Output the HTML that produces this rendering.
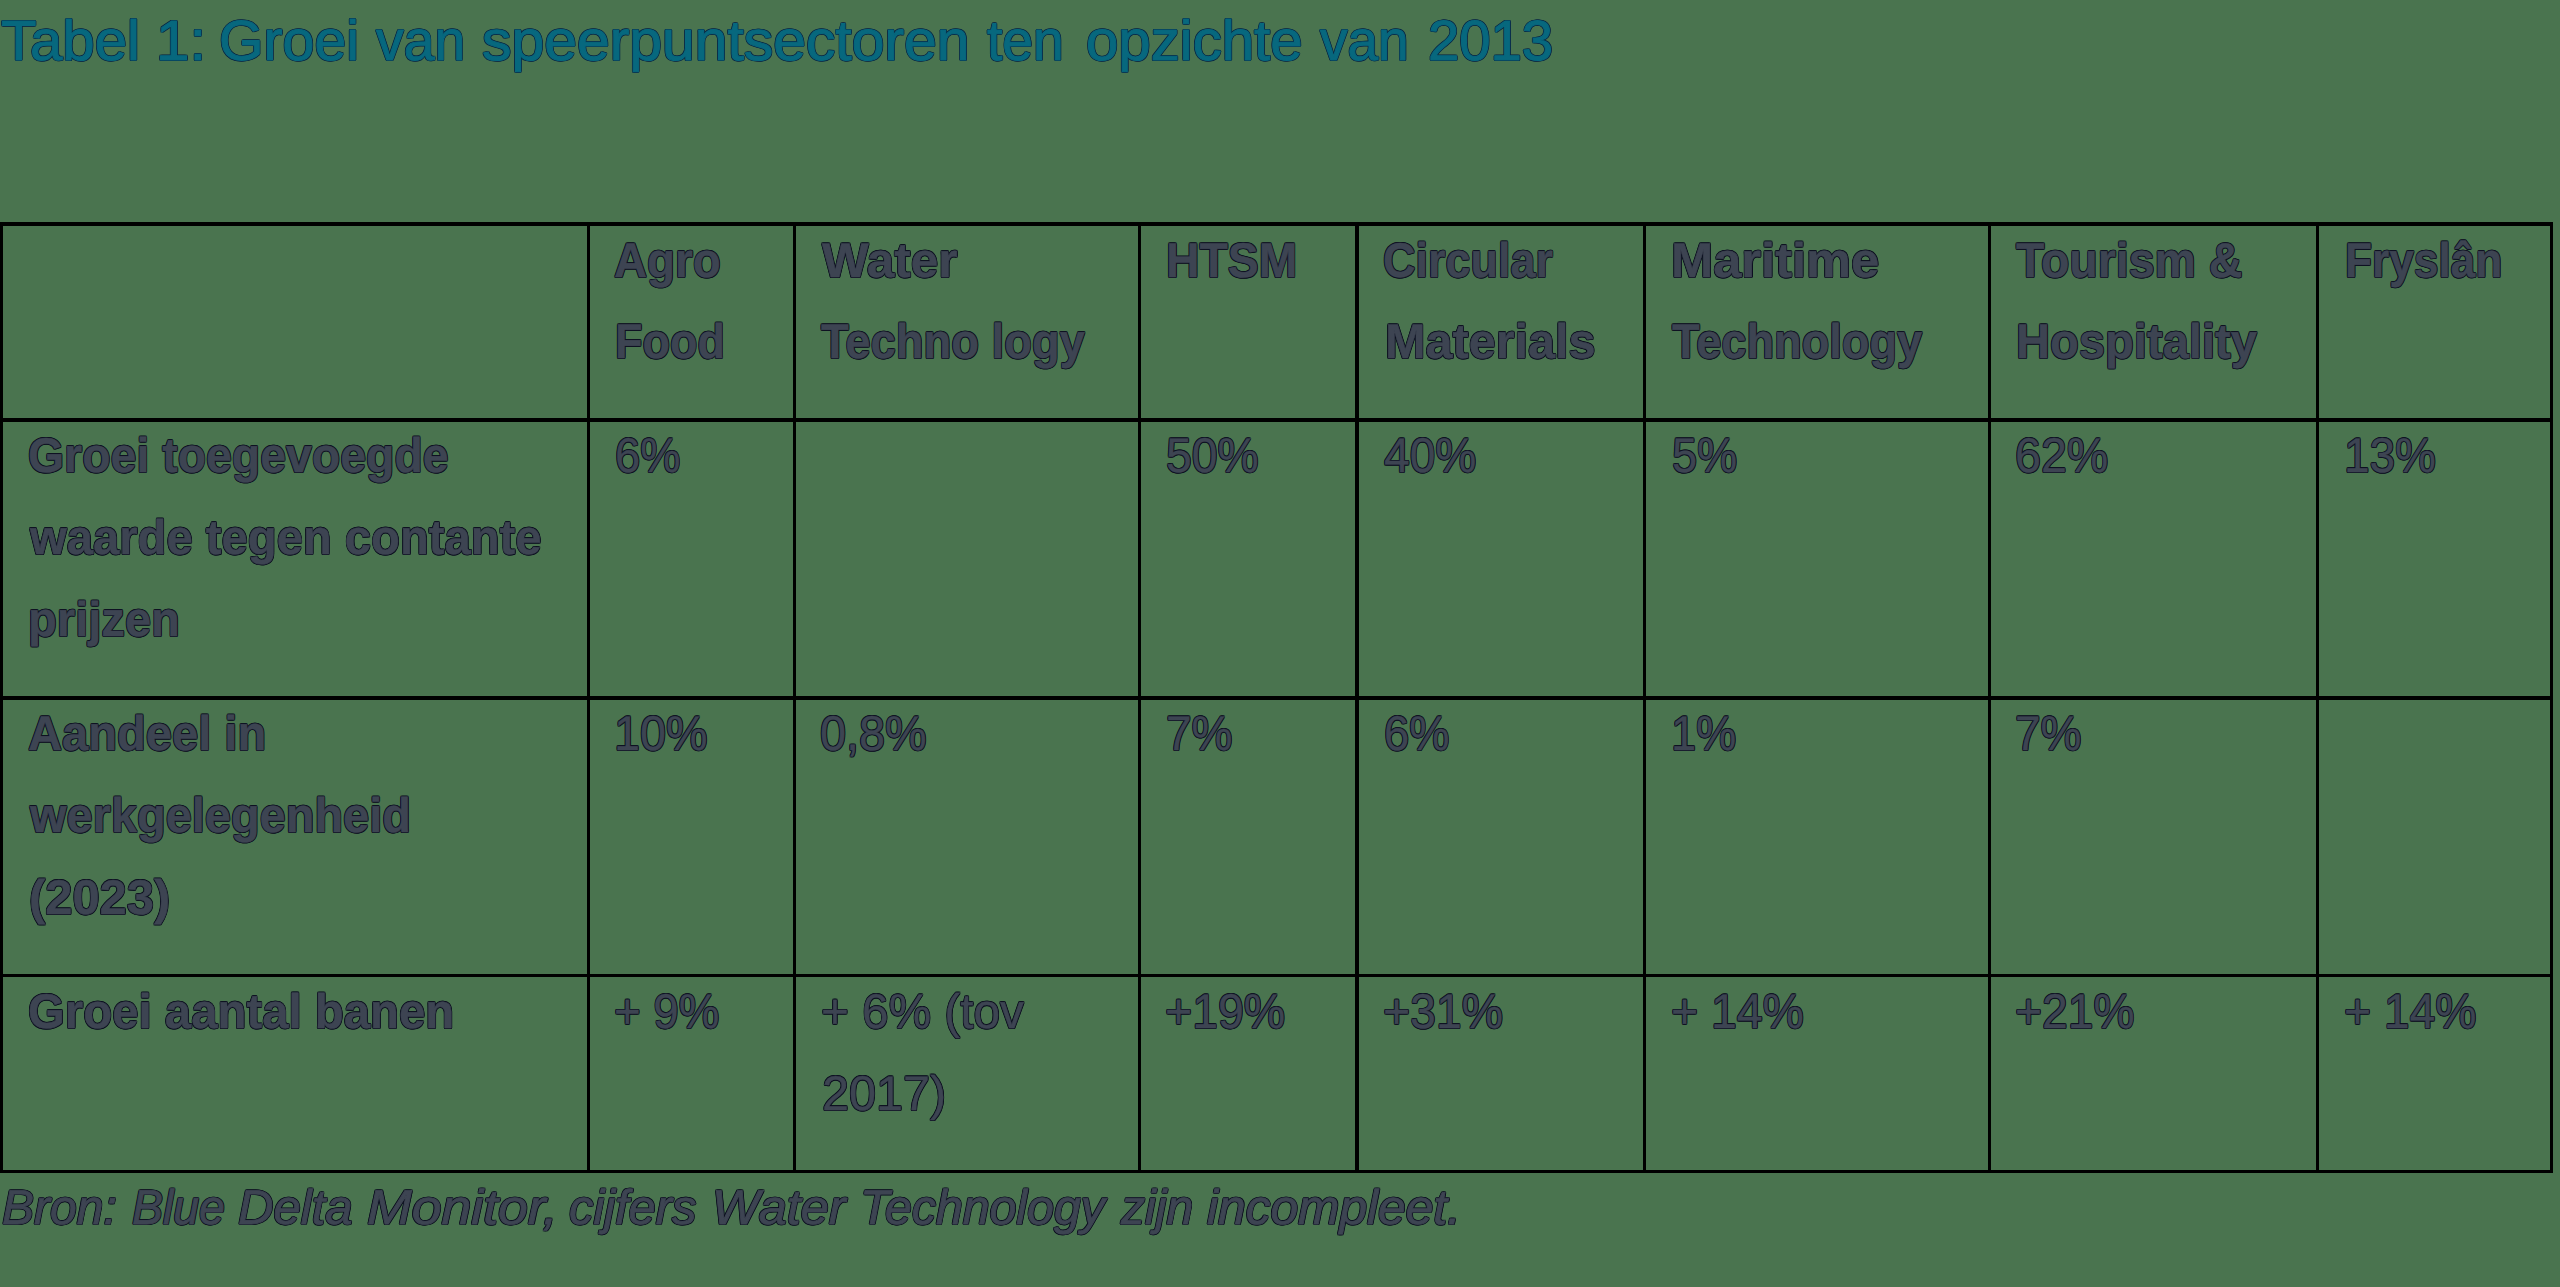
<!DOCTYPE html>
<html lang="nl"><head><meta charset="utf-8"><title>Tabel 1</title>
<style>
html,body{margin:0;padding:0}
body{width:2560px;height:1287px;overflow:hidden;background:#4a744f;position:relative;font-family:"Liberation Sans",sans-serif;--txt:#3d4452;--ring:#0e1122}
.ln{position:absolute;background:#000}
.t{text-rendering:geometricPrecision;position:absolute;white-space:nowrap;line-height:1;transform-origin:0 0;margin:0;color:var(--txt);-webkit-text-stroke:0.4px var(--txt);text-shadow:1.00px 0.00px 0 var(--ring),0.71px 0.71px 0 var(--ring),0.00px 1.00px 0 var(--ring),-0.71px 0.71px 0 var(--ring),-1.00px 0.00px 0 var(--ring),-0.71px -0.71px 0 var(--ring),-0.00px -1.00px 0 var(--ring),0.71px -0.71px 0 var(--ring)}
.b{font-weight:700;-webkit-text-stroke-width:0.5px;text-shadow:1.00px 0.00px 0 var(--ring),0.71px 0.71px 0 var(--ring),0.00px 1.00px 0 var(--ring),-0.71px 0.71px 0 var(--ring),-1.00px 0.00px 0 var(--ring),-0.71px -0.71px 0 var(--ring),-0.00px -1.00px 0 var(--ring),0.71px -0.71px 0 var(--ring)}
.i{font-style:italic;-webkit-text-stroke-width:0.8px;text-shadow:1.20px 0.00px 0 var(--ring),0.85px 0.85px 0 var(--ring),0.00px 1.20px 0 var(--ring),-0.85px 0.85px 0 var(--ring),-1.20px 0.00px 0 var(--ring),-0.85px -0.85px 0 var(--ring),-0.00px -1.20px 0 var(--ring),0.85px -0.85px 0 var(--ring)}
.title{--txt:#07687e;--ring:#0a2846;-webkit-text-stroke-width:1.0px;text-shadow:1.20px 0.00px 0 var(--ring),0.85px 0.85px 0 var(--ring),0.00px 1.20px 0 var(--ring),-0.85px 0.85px 0 var(--ring),-1.20px 0.00px 0 var(--ring),-0.85px -0.85px 0 var(--ring),-0.00px -1.20px 0 var(--ring),0.85px -0.85px 0 var(--ring)}

</style></head><body>
<div class="ln" style="left:0px;top:222px;width:3px;height:951px"></div>
<div class="ln" style="left:587px;top:222px;width:3px;height:951px"></div>
<div class="ln" style="left:793px;top:222px;width:3px;height:951px"></div>
<div class="ln" style="left:1138px;top:222px;width:3px;height:951px"></div>
<div class="ln" style="left:1355px;top:222px;width:4px;height:951px"></div>
<div class="ln" style="left:1643px;top:222px;width:3px;height:951px"></div>
<div class="ln" style="left:1988px;top:222px;width:3px;height:951px"></div>
<div class="ln" style="left:2316px;top:222px;width:3px;height:951px"></div>
<div class="ln" style="left:2550px;top:222px;width:3px;height:951px"></div>
<div class="ln" style="left:0px;top:222px;width:2553px;height:4px"></div>
<div class="ln" style="left:0px;top:418px;width:2553px;height:4px"></div>
<div class="ln" style="left:0px;top:696px;width:2553px;height:4px"></div>
<div class="ln" style="left:0px;top:974px;width:2553px;height:3px"></div>
<div class="ln" style="left:0px;top:1170px;width:2553px;height:3px"></div>
<div class="t title" style="left:0.50px;top:13px;font-size:56.600px;transform:scaleX(1.0263)">Tabel</div>
<div class="t title" style="left:155.61px;top:13px;font-size:56.600px;transform:scaleX(1.0625)">1:</div>
<div class="t title" style="left:219.49px;top:13px;font-size:56.600px;transform:scaleX(1.0111)">Groei</div>
<div class="t title" style="left:376.48px;top:13px;font-size:56.600px;transform:scaleX(0.9767)">van</div>
<div class="t title" style="left:482.30px;top:13px;font-size:56.600px;transform:scaleX(1.0400)">speerpuntsectoren</div>
<div class="t title" style="left:987.27px;top:13px;font-size:56.600px;transform:scaleX(0.9740)">ten</div>
<div class="t title" style="left:1086.27px;top:13px;font-size:56.600px;transform:scaleX(1.0273)">opzichte</div>
<div class="t title" style="left:1319.77px;top:13px;font-size:56.600px;transform:scaleX(0.9722)">van</div>
<div class="t title" style="left:1427.81px;top:13px;font-size:56.600px;transform:scaleX(0.9935)">2013</div>
<div class="t b" style="left:614.00px;top:237px;font-size:48.800px;transform:scaleX(0.9381)">Agro</div>
<div class="t b" style="left:615.16px;top:318px;font-size:48.800px;transform:scaleX(0.9217)">Food</div>
<div class="t b" style="left:822.21px;top:237px;font-size:48.800px;transform:scaleX(1.0133)">Water</div>
<div class="t b" style="left:820.93px;top:318px;font-size:48.800px;transform:scaleX(0.9298)">Techno logy</div>
<div class="t b" style="left:1166.10px;top:237px;font-size:48.800px;transform:scaleX(0.9493)">HTSM</div>
<div class="t b" style="left:1383.08px;top:237px;font-size:48.800px;transform:scaleX(0.9212)">Circular</div>
<div class="t b" style="left:1384.51px;top:318px;font-size:48.800px;transform:scaleX(0.9952)">Materials</div>
<div class="t b" style="left:1671.42px;top:237px;font-size:48.800px;transform:scaleX(1.0379)">Maritime</div>
<div class="t b" style="left:1671.93px;top:318px;font-size:48.800px;transform:scaleX(0.9257)">Technology</div>
<div class="t b" style="left:2015.95px;top:237px;font-size:48.800px;transform:scaleX(0.9525)">Tourism &amp;</div>
<div class="t b" style="left:2015.77px;top:318px;font-size:48.800px;transform:scaleX(0.9661)">Hospitality</div>
<div class="t b" style="left:2344.79px;top:237px;font-size:48.800px;transform:scaleX(0.9065)">Fryslân</div>
<div class="t b" style="left:27.85px;top:432px;font-size:48.800px;transform:scaleX(0.9516)">Groei toegevoegde</div>
<div class="t b" style="left:29.77px;top:514px;font-size:48.800px;transform:scaleX(0.9675)">waarde tegen contante</div>
<div class="t b" style="left:27.77px;top:596px;font-size:48.800px;transform:scaleX(0.9660)">prijzen</div>
<div class="t" style="left:615.07px;top:432px;font-size:48.800px;transform:scaleX(0.9275)">6%</div>
<div class="t" style="left:1166.05px;top:432px;font-size:48.800px;transform:scaleX(0.9479)">50%</div>
<div class="t" style="left:1383.80px;top:432px;font-size:48.800px;transform:scaleX(0.9454)">40%</div>
<div class="t" style="left:1671.58px;top:432px;font-size:48.800px;transform:scaleX(0.9246)">5%</div>
<div class="t" style="left:2015.34px;top:432px;font-size:48.800px;transform:scaleX(0.9552)">62%</div>
<div class="t" style="left:2344.18px;top:432px;font-size:48.800px;transform:scaleX(0.9415)">13%</div>
<div class="t b" style="left:27.50px;top:710px;font-size:48.800px;transform:scaleX(0.9653)">Aandeel in</div>
<div class="t b" style="left:29.76px;top:792px;font-size:48.800px;transform:scaleX(0.9620)">werkgelegenheid</div>
<div class="t b" style="left:28.70px;top:874px;font-size:48.800px;transform:scaleX(1.0007)">(2023)</div>
<div class="t" style="left:614.13px;top:710px;font-size:48.800px;transform:scaleX(0.9574)">10%</div>
<div class="t" style="left:820.04px;top:710px;font-size:48.800px;transform:scaleX(0.9591)">0,8%</div>
<div class="t" style="left:1165.56px;top:710px;font-size:48.800px;transform:scaleX(0.9420)">7%</div>
<div class="t" style="left:1384.07px;top:710px;font-size:48.800px;transform:scaleX(0.9275)">6%</div>
<div class="t" style="left:1671.22px;top:710px;font-size:48.800px;transform:scaleX(0.9254)">1%</div>
<div class="t" style="left:2015.36px;top:710px;font-size:48.800px;transform:scaleX(0.9420)">7%</div>
<div class="t b" style="left:28.03px;top:988px;font-size:48.800px;transform:scaleX(0.9702)">Groei aantal banen</div>
<div class="t" style="left:613.76px;top:988px;font-size:48.800px;transform:scaleX(0.9351)">+ 9%</div>
<div class="t" style="left:820.62px;top:988px;font-size:48.800px;transform:scaleX(0.9778)">+ 6% (tov</div>
<div class="t" style="left:822.10px;top:1070px;font-size:48.800px;transform:scaleX(0.9951)">2017)</div>
<div class="t" style="left:1165.05px;top:988px;font-size:48.800px;transform:scaleX(0.9520)">+19%</div>
<div class="t" style="left:1383.25px;top:988px;font-size:48.800px;transform:scaleX(0.9512)">+31%</div>
<div class="t" style="left:1670.95px;top:988px;font-size:48.800px;transform:scaleX(0.9507)">+ 14%</div>
<div class="t" style="left:2014.95px;top:988px;font-size:48.800px;transform:scaleX(0.9472)">+21%</div>
<div class="t" style="left:2343.55px;top:988px;font-size:48.800px;transform:scaleX(0.9478)">+ 14%</div>
<div class="t i" style="left:1.90px;top:1184px;font-size:48.800px;transform:scaleX(0.9836)">Bron:</div>
<div class="t i" style="left:132.10px;top:1184px;font-size:48.800px;transform:scaleX(0.9505)">Blue</div>
<div class="t i" style="left:238.10px;top:1184px;font-size:48.800px;transform:scaleX(1.0061)">Delta</div>
<div class="t i" style="left:366.90px;top:1184px;font-size:48.800px;transform:scaleX(1.0982)">Monitor,</div>
<div class="t i" style="left:569.00px;top:1184px;font-size:48.800px;transform:scaleX(0.9992)">cijfers</div>
<div class="t i" style="left:711.70px;top:1184px;font-size:48.800px;transform:scaleX(1.0333)">Water</div>
<div class="t i" style="left:860.14px;top:1184px;font-size:48.800px;transform:scaleX(0.9879)">Technology</div>
<div class="t i" style="left:1120.57px;top:1184px;font-size:48.800px;transform:scaleX(0.9851)">zijn</div>
<div class="t i" style="left:1207.02px;top:1184px;font-size:48.800px;transform:scaleX(1.0175)">incompleet.</div>
</body></html>
